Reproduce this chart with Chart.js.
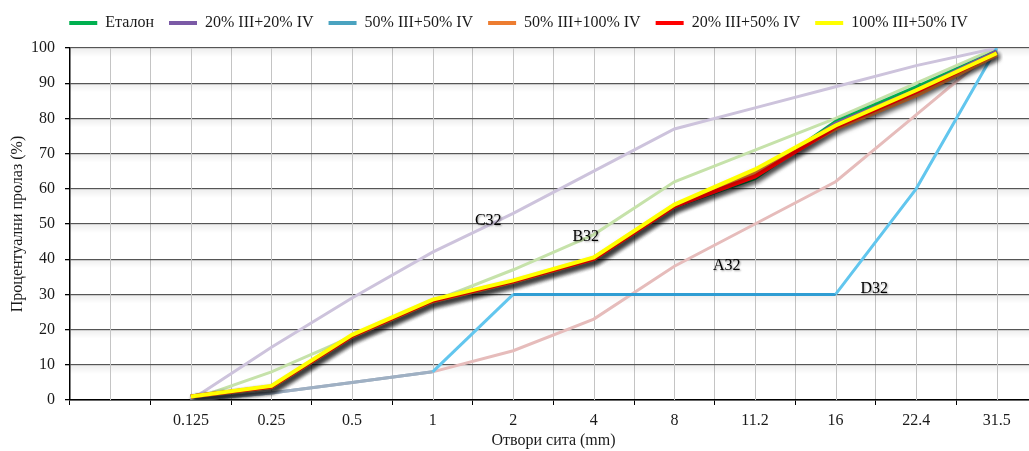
<!DOCTYPE html>
<html>
<head>
<meta charset="utf-8">
<script src="https://cdn.jsdelivr.net/npm/chart.js@4.4.0/dist/chart.umd.min.js"></script>
<style>
  html, body { margin: 0; padding: 0; background: #fff; overflow: hidden; }
  #wrap { width: 1040px; height: 451px; }
</style>
</head>
<body>
<div id="wrap"><canvas id="chart" width="1040" height="451"></canvas></div>
<script>
// Sieve openings (mm); the first slot is an empty category
const sieveSizes = ['', '0.125', '0.25', '0.5', '1', '2', '4', '8', '11.2', '16', '22.4', '31.5'];

// Passing percentages of the tested mixes
const etalon      = [null, 1, 3.6, 18, 28, 33.5, 40, 55, 63, 79, 88.8, 99];
const mix20_20    = [null, 1, 3.6, 18, 28, 33.5, 40, 55, 63.5, 78.5, 88, 99];
const mix50_50    = [null, 1, 3.6, 18, 28, 33.5, 40, 55, 64, 77.5, 87, 98.5];
const mix50_100   = [null, 1, 3.6, 18, 28, 33.5, 40, 55, 64.5, 77, 86.5, 98];
const mix20_50    = [null, 1, 3.8, 18.2, 28.2, 33.7, 40.1, 55, 63.5, 77.5, 87.5, 98.5];
const mix100_50   = [null, 1, 4, 18.5, 28.5, 34, 40.5, 55.5, 65.5, 78, 88, 98.5];

// Reference grading limit curves
const curveA32 = [null, 0, 2, 5, 8, 14, 23, 38, 50, 62, 81, 100];
const curveB32 = [null, 0, 8, 18, 28, 37, 47, 62, 71, 80, 90, 100];
const curveC32 = [null, 0, 15, 29, 42, 53, 65, 77, 83, 89, 95, 100];
const curveD32 = [null, 0, 2, 5, 8, 30, 30, 30, 30, 30, 60, 100];

// Legend names
const mixNames = ['Еталон', '20% III+20% IV', '50% III+50% IV', '50% III+100% IV', '20% III+50% IV', '100% III+50% IV'];
const curveNames = ['A32', 'B32', 'C32', 'D32'];

const SERIF = "'Liberation Serif', 'Times New Roman', serif";
Chart.defaults.font.family = SERIF;
Chart.defaults.font.size = 16;
Chart.defaults.color = '#1a1a1a';

const mixColors = ['#00b050', '#7b5aa6', '#4aa3c0', '#ed7d31', '#ff0000', '#ffff00'];
const mixData = [etalon, mix20_20, mix50_50, mix50_100, mix20_50, mix100_50];
// drawing order: yellow on top, then red, orange, teal, purple, green
const mixOrder = [6, 5, 4, 3, 2, 1];

const datasets = mixData.map((d, i) => ({
  label: mixNames[i],
  data: d,
  borderColor: mixColors[i],
  backgroundColor: mixColors[i],
  borderWidth: 4,
  pointRadius: 0,
  tension: 0,
  order: mixOrder[i],
  shadow: true
}));

const lowShared = '#9fb0c3';
datasets.push(
  { label: curveNames[2], data: curveC32, borderColor: '#cdc3dc', borderWidth: 3, pointRadius: 0, order: 20 },
  { label: curveNames[1], data: curveB32, borderColor: '#c6e2aa', borderWidth: 3, pointRadius: 0, order: 21 },
  { label: curveNames[0], data: curveA32, borderColor: '#e6bcbb', borderWidth: 3, pointRadius: 0, order: 22,
    segment: { borderColor: c => c.p0DataIndex < 4 ? lowShared : undefined } },
  { label: curveNames[3], data: curveD32, borderColor: '#62c6ee', borderWidth: 3, pointRadius: 0, order: 19,
    segment: { borderColor: c => c.p0DataIndex < 4 ? lowShared : (c.p0.parsed.y === c.p1.parsed.y ? '#2f9dd3' : undefined) } }
);

// Drop shadow under the mix lines
const lineShadow = {
  id: 'lineShadow',
  beforeDatasetDraw(chart, args) {
    if (!chart.data.datasets[args.index].shadow) return;
    const ctx = chart.ctx;
    ctx.save();
    ctx.shadowColor = 'rgba(0,0,0,0.38)';
    ctx.shadowBlur = 5;
    ctx.shadowOffsetX = 2;
    ctx.shadowOffsetY = 3;
  },
  afterDatasetDraw(chart, args) {
    if (!chart.data.datasets[args.index].shadow) return;
    chart.ctx.restore();
  }
};

// Extra room under the legend row
const legendGap = {
  id: 'legendGap',
  afterInit(chart) {
    const lg = chart.legend;
    if (!lg) return;
    const fit = lg.fit;
    lg.fit = function () {
      fit.call(this);
      this.height += 7;
    };
  }
};

// Extra vertical grid lines through the category centres and soft shading under the horizontal lines
const gridExtras = {
  id: 'gridExtras',
  beforeDatasetsDraw(chart) {
    const { ctx, chartArea: a, scales: { x, y } } = chart;
    ctx.save();
    ctx.beginPath();
    ctx.rect(a.left, a.top, a.right - a.left, a.bottom - a.top);
    ctx.clip();
    y.ticks.forEach(t => {
      const py = y.getPixelForValue(t.value);
      const g = ctx.createLinearGradient(0, py, 0, py + 9);
      g.addColorStop(0, 'rgba(0,0,0,0.07)');
      g.addColorStop(1, 'rgba(0,0,0,0)');
      ctx.fillStyle = g;
      ctx.fillRect(a.left, py + 1, a.right - a.left, 9);
    });
    ctx.strokeStyle = '#c4c4c4';
    ctx.lineWidth = 1;
    sieveSizes.forEach((s, i) => {
      const px = Math.round(x.getPixelForValue(i)) + 0.5;
      ctx.beginPath();
      ctx.moveTo(px, a.top);
      ctx.lineTo(px, a.bottom);
      ctx.stroke();
    });
    ctx.restore();
  }
};

// Names of the limit curves, placed in data coordinates
const curveTags = {
  id: 'curveTags',
  afterDatasetsDraw(chart, args, opts) {
    const { ctx, scales: { x, y } } = chart;
    ctx.save();
    ctx.font = '16px ' + SERIF;
    ctx.fillStyle = '#000';
    ctx.textAlign = 'center';
    ctx.textBaseline = 'middle';
    ctx.shadowColor = 'rgba(0,0,0,0.4)';
    ctx.shadowBlur = 2;
    ctx.shadowOffsetX = 1;
    ctx.shadowOffsetY = 1;
    opts.tags.forEach(t => {
      ctx.fillText(t.text, x.getPixelForValue(t.at), y.getPixelForValue(t.value));
    });
    ctx.restore();
  }
};

new Chart(document.getElementById('chart'), {
  type: 'line',
  data: { labels: sieveSizes, datasets },
  plugins: [legendGap, lineShadow, gridExtras, curveTags],
  options: {
    responsive: false,
    animation: false,
    layout: { padding: { left: 0, right: 3, top: 0, bottom: 0 } },
    plugins: {
      tooltip: { enabled: false },
      legend: {
        position: 'top',
        labels: {
          boxWidth: 28,
          boxHeight: 4,
          padding: 15,
          color: '#1a1a1a',
          font: { size: 16, family: SERIF },
          filter: item => item.datasetIndex < 6,
          sort: (a, b) => a.datasetIndex - b.datasetIndex,
          generateLabels(chart) {
            return Chart.defaults.plugins.legend.labels.generateLabels(chart).map(l => {
              l.fillStyle = l.strokeStyle;
              l.lineWidth = 0;
              return l;
            });
          }
        }
      },
      curveTags: {
        tags: [
          { text: curveNames[2], at: 4.69, value: 51 },
          { text: curveNames[1], at: 5.9, value: 46.5 },
          { text: curveNames[0], at: 7.65, value: 38 },
          { text: curveNames[3], at: 9.48, value: 31.5 }
        ]
      }
    },
    scales: {
      x: {
        type: 'category',
        offset: true,
        grid: { offset: true, color: '#c4c4c4', lineWidth: 1, drawTicks: true, tickLength: 5, tickColor: '#000' },
        border: { color: '#000', width: 1.5 },
        ticks: { color: '#1a1a1a', padding: 6, maxRotation: 0, autoSkip: false, font: { size: 16 } },
        title: { display: true, text: 'Отвори сита (mm)', color: '#1a1a1a', font: { size: 16 }, padding: { top: 4, bottom: 1 } },
        afterFit(scale) { scale.height = 51; }
      },
      y: {
        min: 0,
        max: 100,
        ticks: { stepSize: 10, color: '#1a1a1a', padding: 10, font: { size: 16 } },
        grid: { color: '#555', lineWidth: 1.3, tickLength: 5, tickColor: '#000' },
        border: { color: '#000', width: 1.5 },
        title: { display: true, text: 'Процентуални пролаз (%)', color: '#1a1a1a', font: { size: 16 }, padding: { top: 8, bottom: 4 } },
        afterFit(scale) { scale.width = 70; }
      }
    }
  }
});
</script>
</body>
</html>
